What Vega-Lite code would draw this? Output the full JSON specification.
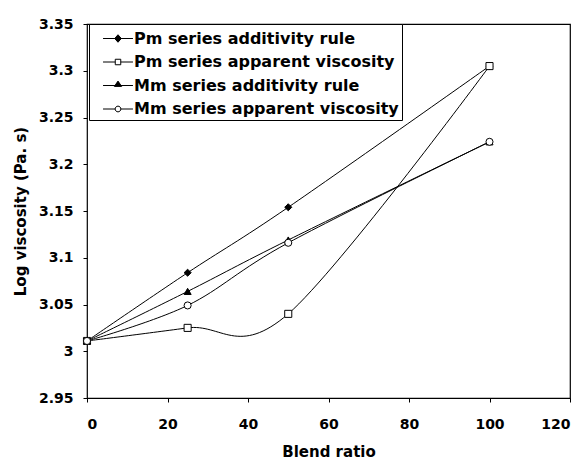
{
  "$schema": "https://vega.github.io/schema/vega-lite/v6.json",
  "width": 483,
  "height": 374,
  "autosize": {"type": "none"},
  "padding": {"left": 87, "top": 24, "right": 16, "bottom": 65},
  "background": "white",
  "config": {
    "view": {"stroke": "black", "strokeWidth": 1.2},
    "axis": {
      "grid": false,
      "domain": false,
      "tickColor": "black",
      "tickSize": 4,
      "labelFont": "DejaVu Sans",
      "labelFontWeight": "bold",
      "labelFontSize": 14,
      "labelColor": "black",
      "titleFont": "DejaVu Sans",
      "titleFontWeight": "bold",
      "titleFontSize": 15,
      "titleColor": "black"
    }
  },
  "data": {
    "values": [
      {"series": "Pm series additivity rule", "ratio": 0, "value": 3.011},
      {"series": "Pm series additivity rule", "ratio": 25, "value": 3.084},
      {"series": "Pm series additivity rule", "ratio": 50, "value": 3.154},
      {"series": "Pm series additivity rule", "ratio": 100, "value": 3.305},
      {"series": "Pm series apparent viscosity", "ratio": 0, "value": 3.011},
      {"series": "Pm series apparent viscosity", "ratio": 25, "value": 3.025},
      {"series": "Pm series apparent viscosity", "ratio": 50, "value": 3.04},
      {"series": "Pm series apparent viscosity", "ratio": 100, "value": 3.305},
      {"series": "Mm series additivity rule", "ratio": 0, "value": 3.011},
      {"series": "Mm series additivity rule", "ratio": 25, "value": 3.064},
      {"series": "Mm series additivity rule", "ratio": 50, "value": 3.119},
      {"series": "Mm series additivity rule", "ratio": 100, "value": 3.224},
      {"series": "Mm series apparent viscosity", "ratio": 0, "value": 3.011},
      {"series": "Mm series apparent viscosity", "ratio": 25, "value": 3.049},
      {"series": "Mm series apparent viscosity", "ratio": 50, "value": 3.116},
      {"series": "Mm series apparent viscosity", "ratio": 100, "value": 3.224}
    ]
  },
  "encoding": {
    "x": {
      "field": "ratio",
      "type": "quantitative",
      "scale": {"domain": [0, 120], "nice": false, "zero": false},
      "axis": {"title": "Blend ratio", "values": [0, 20, 40, 60, 80, 100, 120], "labelPadding": 15, "titlePadding": 13}
    },
    "y": {
      "field": "value",
      "type": "quantitative",
      "scale": {"domain": [2.95, 3.35], "nice": false, "zero": false},
      "axis": {
        "title": "Log viscosity (Pa. s)",
        "values": [2.95, 3, 3.05, 3.1, 3.15, 3.2, 3.25, 3.3, 3.35],
        "format": "~g",
        "labelPadding": 10,
        "titlePadding": 10
      }
    }
  },
  "layer": [
    {
      "mark": {"type": "line", "interpolate": "cardinal", "strokeWidth": 1},
      "encoding": {
        "stroke": {
          "field": "series",
          "type": "nominal",
          "scale": {
            "domain": ["Pm series additivity rule", "Pm series apparent viscosity", "Mm series additivity rule", "Mm series apparent viscosity"],
            "range": ["black", "black", "black", "black"]
          },
          "legend": {
            "title": null,
            "orient": "none",
            "legendX": 2,
            "legendY": 0,
            "strokeColor": "black",
            "fillColor": "white",
            "padding": 3,
            "rowPadding": 3.5,
            "labelOffset": 19,
            "labelFont": "DejaVu Sans",
            "labelFontWeight": "bold",
            "labelFontSize": 16,
            "labelColor": "black",
            "labelLimit": 400,
            "labelExpr": "datum.label + '\u2003'",
            "symbolSize": 484,
            "encode": {
              "symbols": {
                "update": {
                  "x": {"value": 26},
                  "shape": {"signal": "datum.value === 'Pm series additivity rule' ? 'M-1.36,0H1.36M0,-0.34L0.3,0L0,0.34L-0.3,0Z' : datum.value === 'Pm series apparent viscosity' ? 'M-1.36,0H-0.25M0.25,0H1.36M-0.25,-0.25H0.25V0.25H-0.25Z' : datum.value === 'Mm series additivity rule' ? 'M-1.36,0H1.36M0,-0.4L0.33,0.08H-0.33Z' : 'M-1.36,0H-0.26M0.26,0H1.36M0.26,0A0.26,0.26 0 1,1 -0.26,0A0.26,0.26 0 1,1 0.26,0Z'"},
                  "fill": {"signal": "indexof(['Pm series additivity rule', 'Mm series additivity rule'], datum.value) >= 0 ? 'black' : 'white'"},
                  "stroke": {"value": "black"},
                  "strokeWidth": {"value": 1},
                  "size": {"value": 484},
                  "opacity": {"value": 1}
                }
              }
            }
          }
        },
        "detail": {"field": "series", "type": "nominal"}
      }
    },
    {
      "mark": {"type": "point", "filled": false, "stroke": "black", "strokeWidth": 1, "size": 50, "opacity": 1},
      "encoding": {
        "shape": {
          "field": "series",
          "type": "nominal",
          "scale": {
            "domain": ["Pm series additivity rule", "Pm series apparent viscosity", "Mm series additivity rule", "Mm series apparent viscosity"],
            "range": ["diamond", "square", "triangle-up", "circle"]
          },
          "legend": null
        },
        "fill": {
          "field": "series",
          "type": "nominal",
          "scale": {
            "domain": ["Pm series additivity rule", "Pm series apparent viscosity", "Mm series additivity rule", "Mm series apparent viscosity"],
            "range": ["black", "white", "black", "white"]
          },
          "legend": null
        }
      }
    }
  ],
  "resolve": {"legend": {"stroke": "independent", "shape": "independent", "fill": "independent"}}
}
